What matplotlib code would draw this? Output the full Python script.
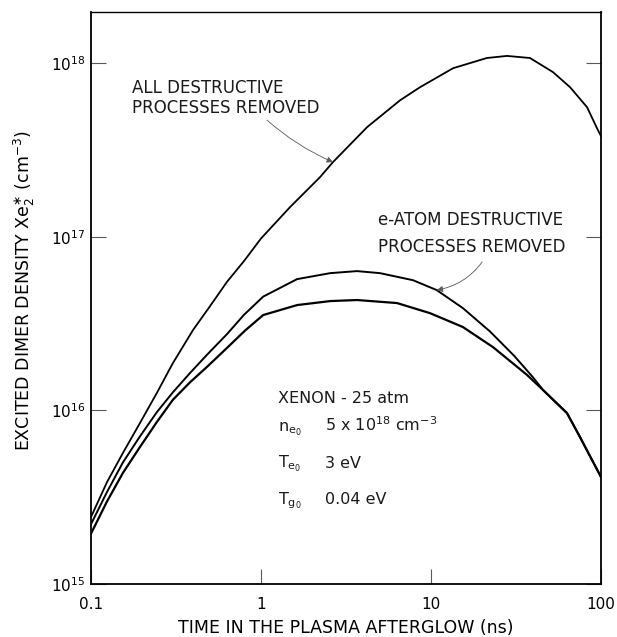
import matplotlib
matplotlib.use("Agg")
import matplotlib.pyplot as plt

# values (time in ns, density in cm^-3)
all_removed_t = [0.1, 0.124, 0.154, 0.194, 0.244, 0.303, 0.398, 0.501, 0.631, 0.794,
                 1.0, 1.48, 2.22, 2.65, 4.21, 6.58, 8.61, 13.5, 21.3, 28.0,
                 38.2, 52.2, 65.8, 82.8, 95.9, 100]
all_removed_n = [2.43e15, 3.85e15, 5.68e15, 8.45e15, 1.26e16, 1.87e16, 2.90e16, 3.98e16, 5.50e16, 7.24e16,
                 9.77e16, 1.48e17, 2.20e17, 2.69e17, 4.28e17, 6.11e17, 7.26e17, 9.35e17, 1.07e18, 1.10e18,
                 1.07e18, 8.87e17, 7.26e17, 5.57e17, 4.11e17, 3.80e17]

eatom_removed_t = [0.1, 0.124, 0.154, 0.194, 0.244, 0.303, 0.382, 0.481, 0.631, 0.794,
                   1.03, 1.63, 2.55, 3.67, 5.01, 7.83, 10.8, 15.4, 22.2, 31.0,
                   39.8, 45.6, 63.1, 75.2, 100]
eatom_removed_n = [2.21e15, 3.38e15, 5.01e15, 7.08e15, 9.77e15, 1.27e16, 1.64e16, 2.09e16, 2.75e16, 3.55e16,
                   4.52e16, 5.70e16, 6.17e16, 6.34e16, 6.17e16, 5.62e16, 4.93e16, 3.88e16, 2.85e16, 2.05e16,
                   1.55e16, 1.31e16, 9.64e15, 7.02e15, 4.13e15]

full_t = [0.1, 0.124, 0.154, 0.194, 0.244, 0.303, 0.382, 0.481, 0.631, 0.805,
          1.03, 1.63, 2.55, 3.67, 6.31, 9.86, 15.4, 23.2, 36.7, 45.6,
          63.1, 75.2, 100]
full_n = [1.95e15, 2.98e15, 4.36e15, 6.15e15, 8.57e15, 1.15e16, 1.45e16, 1.78e16, 2.29e16, 2.88e16,
          3.54e16, 4.04e16, 4.26e16, 4.32e16, 4.15e16, 3.63e16, 3.02e16, 2.31e16, 1.60e16, 1.31e16,
          9.64e15, 7.02e15, 4.13e15]

x_ticks = [0.1, 1, 10, 100]
x_tick_labels = ["0.1", "1", "10", "100"]
y_ticks = [1e15, 1e16, 1e17, 1e18]

plt.rcParams["font.family"] = ["DejaVu Sans"]
plt.rcParams["mathtext.fontset"] = "dejavusans"
plt.rcParams["mathtext.default"] = "regular"

fig = plt.figure(figsize=(6.17, 6.37), dpi=100)
ax = fig.add_axes([0.1475, 0.0832, 0.8266, 0.898])

ax.plot(all_removed_t, all_removed_n, color="black", lw=1.3)
ax.plot(eatom_removed_t, eatom_removed_n, color="black", lw=1.4)
ax.plot(full_t, full_n, color="black", lw=1.6)

ax.set_xscale("log")
ax.set_yscale("log")
ax.set_xlim(0.1, 100)
ax.set_ylim(1e15, 1.97e18)
ax.minorticks_off()
ax.set_xticks(x_ticks)
ax.set_xticklabels(x_tick_labels)
ax.set_yticks(y_ticks)

ax.tick_params(direction="in", length=11, width=0.8, color="0.35",
               labelsize=11, right=True, top=False)
ax.tick_params(axis="x", pad=9)
ax.tick_params(axis="y", pad=4)
for s in ax.spines.values():
    s.set_linewidth(1.3)
ax.spines["top"].set_linewidth(1.0)

ax.set_xlabel("TIME IN THE PLASMA AFTERGLOW (ns)", fontsize=12.5)
ax.xaxis.label.set_va("baseline")
ax.xaxis.set_label_coords(0.5, -0.0857)
ax.set_ylabel(r"EXCITED DIMER DENSITY Xe$_2^{\ast}$ (cm$^{-3}$)", fontsize=12.5)
ax.yaxis.label.set_rotation_mode("anchor")
ax.yaxis.label.set_va("baseline")
ax.yaxis.set_label_coords(-0.12, 0.514)

txt = dict(fontsize=12, color="0.1", transform=ax.transAxes)
ax.text(0.080, 0.858, "ALL DESTRUCTIVE", **txt)
ax.text(0.080, 0.823, "PROCESSES REMOVED", **txt)
ax.text(0.563, 0.628, "e-ATOM DESTRUCTIVE", **txt)
ax.text(0.563, 0.580, "PROCESSES REMOVED", **txt)

blk = dict(fontsize=11.5, color="0.1", transform=ax.transAxes)
ax.text(0.367, 0.316, "XENON - 25 atm", **blk)
ax.text(0.367, 0.2675, r"$n_{e_0}$", **blk)
ax.text(0.459, 0.2675, r"5 x 10$^{18}$ cm$^{-3}$", **blk)
ax.text(0.367, 0.203, r"$T_{e_0}$", **blk)
ax.text(0.459, 0.203, "3 eV", **blk)
ax.text(0.367, 0.140, r"$T_{g_0}$", **blk)
ax.text(0.459, 0.140, "0.04 eV", **blk)

arrow = dict(arrowstyle="-|>", color="0.35", lw=0.6, mutation_scale=9,
             shrinkA=0, shrinkB=0)
ax.annotate("", xy=(all_removed_t[13], all_removed_n[13]), xycoords="data",
            xytext=(0.345, 0.811), textcoords="axes fraction",
            arrowprops=dict(arrow, connectionstyle="arc3,rad=0.08"))
ax.annotate("", xy=(eatom_removed_t[16], eatom_removed_n[16]), xycoords="data",
            xytext=(0.767, 0.563), textcoords="axes fraction",
            arrowprops=dict(arrow, connectionstyle="arc3,rad=-0.2"))

fig.savefig("out.png", dpi=100)
